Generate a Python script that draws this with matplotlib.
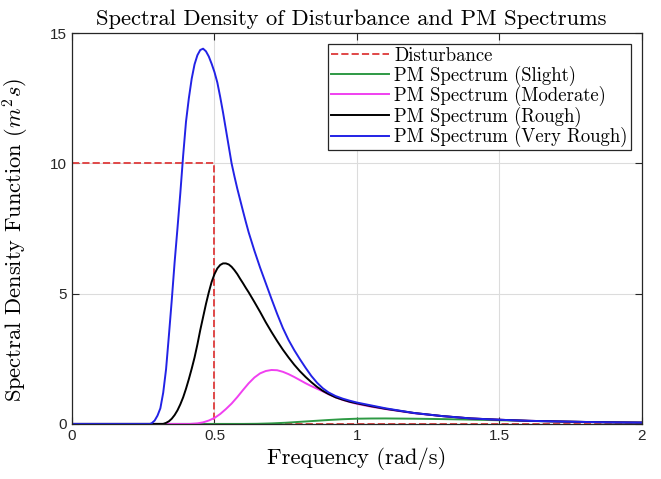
import numpy as np
import matplotlib
matplotlib.use("Agg")
import matplotlib.pyplot as plt

plt.rcParams['mathtext.fontset'] = 'cm'

# values
dist_w = [0, 0.5, 0.5, 2.0]
dist_s = [10, 10, 0, 0]

slight_w = [0, 0.6, 0.65, 0.7, 0.75, 0.8, 0.85, 0.9, 0.95, 1.0, 1.05, 1.1, 1.2, 1.3, 1.4,
            1.5, 1.6, 1.7, 1.8, 1.9, 2.0]
slight_s = [0, 0, 0.005, 0.02, 0.045, 0.08, 0.115, 0.15, 0.18, 0.2, 0.208, 0.21, 0.2, 0.185,
            0.165, 0.14, 0.115, 0.095, 0.075, 0.06, 0.05]

moderate_w = [0, 0.414, 0.42, 0.44, 0.46, 0.48, 0.50, 0.52, 0.54, 0.56, 0.58, 0.60, 0.62,
              0.64, 0.66, 0.68, 0.70, 0.72, 0.74, 0.76, 0.78, 0.80, 0.82, 0.84, 0.86,
              0.88, 0.90, 0.925, 0.95, 0.975, 1.0, 1.05, 1.1, 1.15, 1.2, 1.3, 1.4,
              1.5, 1.6, 1.7, 1.8, 1.9, 2.0]
moderate_s = [0, 0, 0.005, 0.02, 0.06, 0.13, 0.23, 0.38, 0.57, 0.78, 1.03, 1.3, 1.56,
              1.78, 1.94, 2.03, 2.07, 2.06, 2.0, 1.91, 1.8, 1.68, 1.56, 1.45, 1.35,
              1.25, 1.14, 1.02, 0.92, 0.84, 0.77, 0.66, 0.57, 0.49, 0.41, 0.3, 0.21,
              0.16, 0.12, 0.095, 0.075, 0.06, 0.05]

rough_w = [0, 0.32, 0.33, 0.34, 0.35, 0.36, 0.37, 0.38, 0.39, 0.40, 0.41, 0.42, 0.43,
           0.44, 0.45, 0.46, 0.47, 0.48, 0.49, 0.50, 0.51, 0.52, 0.53, 0.54, 0.55,
           0.56, 0.57, 0.58, 0.59, 0.60, 0.61, 0.62, 0.64, 0.66, 0.68, 0.70, 0.72,
           0.74, 0.76, 0.78, 0.80, 0.82, 0.84, 0.86, 0.88, 0.90, 0.925, 0.95, 0.975,
           1.0, 1.05, 1.1, 1.15, 1.2, 1.3, 1.4, 1.5, 1.6, 1.7, 1.8, 1.9, 2.0]
rough_s = [0, 0, 0.04, 0.1, 0.2, 0.34, 0.52, 0.75, 1.02, 1.35, 1.72, 2.12, 2.55,
           3.05, 3.6, 4.1, 4.6, 5.05, 5.45, 5.75, 5.97, 6.1, 6.16, 6.16, 6.12,
           6.03, 5.9, 5.75, 5.57, 5.4, 5.22, 5.05, 4.68, 4.3, 3.9, 3.53, 3.18,
           2.85, 2.55, 2.27, 2.02, 1.8, 1.6, 1.42, 1.27, 1.15, 1.02, 0.93, 0.85,
           0.79, 0.68, 0.58, 0.5, 0.42, 0.3, 0.21, 0.16, 0.12, 0.095, 0.075, 0.06, 0.05]

vrough_w = [0, 0.274, 0.28, 0.29, 0.30, 0.31, 0.32, 0.33, 0.34, 0.35, 0.36, 0.37, 0.38,
            0.39, 0.40, 0.41, 0.42, 0.43, 0.44, 0.45, 0.46, 0.47, 0.48, 0.49, 0.50,
            0.51, 0.52, 0.53, 0.54, 0.55, 0.56, 0.57, 0.58, 0.59, 0.60, 0.61, 0.62,
            0.64, 0.66, 0.68, 0.70, 0.72, 0.74, 0.76, 0.78, 0.80, 0.82, 0.84, 0.86,
            0.88, 0.90, 0.925, 0.95, 0.975, 1.0, 1.05, 1.1, 1.15, 1.2, 1.3, 1.4, 1.5,
            1.6, 1.7, 1.8, 1.9, 2.0]
vrough_s = [0, 0, 0.03, 0.13, 0.32, 0.6, 1.2, 2.1, 3.4, 4.75, 6.2, 7.5, 8.85,
            10.3, 11.6, 12.5, 13.25, 13.8, 14.15, 14.35, 14.4, 14.3, 14.1, 13.82, 13.5,
            13.1, 12.55, 11.95, 11.3, 10.65, 10.0, 9.5, 9.03, 8.6, 8.17, 7.75, 7.35,
            6.65, 6.0, 5.4, 4.8, 4.22, 3.68, 3.22, 2.83, 2.48, 2.15, 1.84, 1.58,
            1.37, 1.21, 1.07, 0.97, 0.89, 0.82, 0.71, 0.6, 0.51, 0.42, 0.3, 0.21, 0.16,
            0.12, 0.095, 0.075, 0.06, 0.05]

serif = 'cmr10'

fig = plt.figure(figsize=(6.61, 4.79), dpi=100)
ax = fig.add_axes([0.109, 0.115, 0.862, 0.816])

ax.plot(dist_w, dist_s, '--', color='#e04848', lw=1.4, label='Disturbance')
ax.plot(slight_w, slight_s, color='#2e9a44', lw=1.4, label='PM Spectrum (Slight)')
ax.plot(moderate_w, moderate_s, color='#f040f0', lw=1.4, label='PM Spectrum (Moderate)')
ax.plot(rough_w, rough_s, color='black', lw=1.4, label='PM Spectrum (Rough)')
ax.plot(vrough_w, vrough_s, color='#2222e6', lw=1.4, label='PM Spectrum (Very Rough)')

ax.set_xlim(0, 2)
ax.set_ylim(0, 15)
ax.set_xticks([0, 0.5, 1, 1.5, 2])
ax.set_xticklabels(['0', '0.5', '1', '1.5', '2'])
ax.set_yticks([0, 5, 10, 15])
ax.tick_params(direction='in', top=True, right=True, labelsize=11, colors='#262626', length=5)
for lab in ax.get_xticklabels() + ax.get_yticklabels():
    lab.set_fontfamily('Liberation Sans')
for s in ax.spines.values():
    s.set_color('#262626')
    s.set_linewidth(0.9)
ax.grid(True, color='#dcdcdc', lw=0.8)
ax.set_axisbelow(True)

ttl = ax.set_title('Spectral Density of Disturbance and PM Spectrums', fontfamily=serif,
                   fontsize=16.2, pad=6)
ttl.set_x(0.49)
ax.set_xlabel('Frequency (rad/s)', fontfamily=serif, fontsize=16.2, labelpad=3)
ax.set_ylabel('Spectral Density Function ($m^2s$)', fontfamily=serif, fontsize=16.2)
ax.yaxis.set_label_coords(-0.072, 0.47)

leg = ax.legend(loc='upper right', prop={'family': serif, 'size': 13.5}, fancybox=False,
                edgecolor='#262626', framealpha=1, handlelength=3.1, borderaxespad=0.6,
                labelspacing=0.02, handletextpad=0.27, borderpad=0.15)
leg.get_frame().set_linewidth(0.9)

fig.savefig('out.png', dpi=100)
